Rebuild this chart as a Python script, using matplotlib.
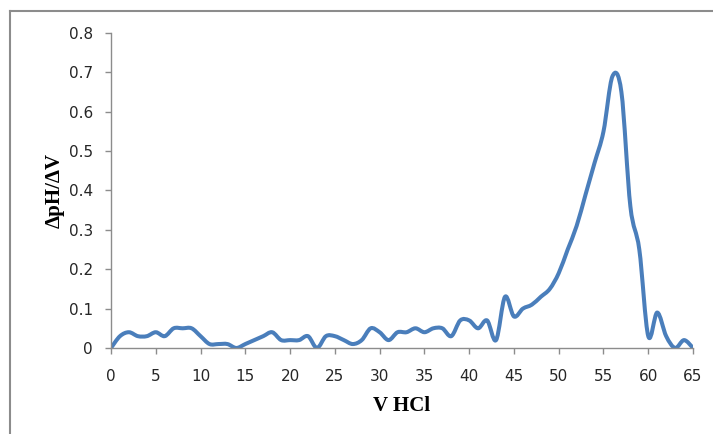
import numpy as np
import matplotlib
matplotlib.use("Agg")
import matplotlib.pyplot as plt
from matplotlib.path import Path
from matplotlib.patches import PathPatch
from matplotlib.lines import Line2D

# titration data, derivative curve
v_hcl = list(range(0, 66))
dph_dv = [0.00, 0.03, 0.04, 0.03, 0.03, 0.04, 0.03, 0.05, 0.05, 0.05,
          0.03, 0.01, 0.01, 0.01, 0.00, 0.01, 0.02, 0.03, 0.04, 0.02,
          0.02, 0.02, 0.03, 0.00, 0.03, 0.03, 0.02, 0.01, 0.02, 0.05,
          0.04, 0.02, 0.04, 0.04, 0.05, 0.04, 0.05, 0.05, 0.03, 0.07,
          0.07, 0.05, 0.07, 0.02, 0.13, 0.08, 0.10, 0.11, 0.13, 0.15,
          0.19, 0.25, 0.31, 0.39, 0.47, 0.55, 0.69, 0.65, 0.36, 0.25,
          0.03, 0.09, 0.03, 0.00, 0.02, 0.00]

x_ticks = list(range(0, 70, 5))
y_ticks = [0, 0.1, 0.2, 0.3, 0.4, 0.5, 0.6, 0.7, 0.8]
y_tick_labels = ["0", "0.1", "0.2", "0.3", "0.4", "0.5", "0.6", "0.7", "0.8"]


def smooth_path(x, y):
    # excel-like smoothed line: catmull-rom turned into bezier segments
    x = np.asarray(x, float)
    y = np.asarray(y, float)
    n = len(x)
    verts = [(x[0], y[0])]
    codes = [Path.MOVETO]
    for i in range(n - 1):
        i0 = max(i - 1, 0)
        i3 = min(i + 2, n - 1)
        c1 = (x[i] + (x[i + 1] - x[i0]) / 6, y[i] + (y[i + 1] - y[i0]) / 6)
        c2 = (x[i + 1] - (x[i3] - x[i]) / 6, y[i + 1] - (y[i3] - y[i]) / 6)
        verts += [c1, c2, (x[i + 1], y[i + 1])]
        codes += [Path.CURVE4] * 3
    return Path(verts, codes)


fig = plt.figure(figsize=(7.13, 4.34), dpi=100)
ax = fig.add_axes([0.1557, 0.1982, 0.9720 - 0.1557, 0.924 - 0.1982])

patch = PathPatch(smooth_path(v_hcl, dph_dv), fill=False, edgecolor="#4a7ebb",
                  linewidth=2.9, capstyle="round", joinstyle="round")
ax.add_patch(patch)

ax.set_xlim(0, 65)
ax.set_ylim(0, 0.8)
ax.set_xticks(x_ticks)
ax.set_yticks(y_ticks)
ax.set_yticklabels(y_tick_labels)

for s in ["top", "right"]:
    ax.spines[s].set_visible(False)
for s in ["left", "bottom"]:
    ax.spines[s].set_color("#8c8c8c")
    ax.spines[s].set_linewidth(1.0)

ax.tick_params(direction="out", length=4, width=1.0, color="#8c8c8c",
               labelsize=11, labelcolor="#262626", pad=9)
for lab in ax.get_xticklabels() + ax.get_yticklabels():
    lab.set_family("DejaVu Sans")
ax.tick_params(axis="x", pad=11)

ax.set_xlabel("V HCl", family="Liberation Serif", fontweight="bold",
              fontsize=15, labelpad=9)
ax.set_ylabel("ΔpH/ΔV", family="Liberation Serif", fontweight="bold",
              fontsize=15, labelpad=3)

# outer chart frame (only top and left edges are in view)
fig.add_artist(Line2D([10 / 713, 1.0], [1 - 11 / 434, 1 - 11 / 434],
                      transform=fig.transFigure, color="#8c8c8c", linewidth=1.5))
fig.add_artist(Line2D([10 / 713, 10 / 713], [0.0, 1 - 11 / 434],
                      transform=fig.transFigure, color="#8c8c8c", linewidth=1.5))

fig.savefig("out.png", dpi=100)
